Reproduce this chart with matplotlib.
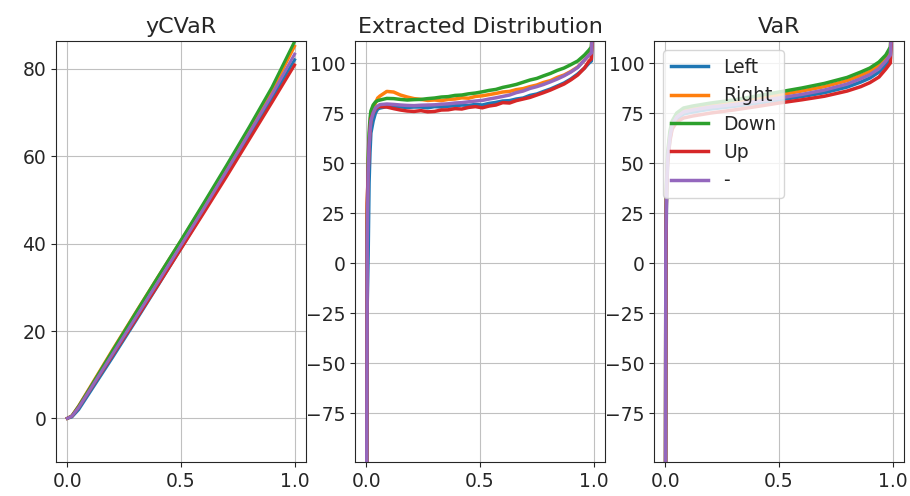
import matplotlib
matplotlib.use("Agg")
import matplotlib.pyplot as plt

labels = ["Left", "Right", "Down", "Up", "-"]
colors = ["#1f77b4", "#ff7f0e", "#2ca02c", "#d62728", "#9467bd"]

# ---- yCVaR panel ----
ycvar_alpha = [0.0, 0.02, 0.05, 0.1, 0.2, 0.3, 0.4, 0.5, 0.6, 0.7, 0.8, 0.9, 1.0]
ycvar_left = [0.0, 0.3, 2.0, 6.0, 14.0, 22.2, 30.5, 38.9, 47.3, 55.9, 64.6, 73.3, 82.1]
ycvar_right = [0.0, 0.6, 2.9, 7.2, 15.8, 24.2, 32.5, 40.7, 49.0, 57.4, 66.0, 75.0, 85.2]
ycvar_down = [0.0, 0.6, 2.8, 7.0, 15.6, 24.1, 32.5, 40.8, 49.3, 57.9, 66.7, 75.8, 86.3]
ycvar_up = [0.0, 0.5, 2.5, 6.5, 14.5, 22.5, 30.6, 38.8, 47.0, 55.3, 63.8, 72.3, 80.9]
ycvar_none = [0.0, 0.5, 2.5, 6.6, 14.8, 23.0, 31.3, 39.6, 48.0, 56.6, 65.3, 74.1, 83.4]

# ---- Extracted distribution panel ----
ext_alpha = [0.0, 0.004, 0.008, 0.012, 0.016, 0.02, 0.03, 0.04, 0.05,
             0.06, 0.09, 0.12, 0.15, 0.18, 0.21, 0.24, 0.27, 0.30, 0.33,
             0.36, 0.39, 0.42, 0.45, 0.48, 0.51, 0.54, 0.57, 0.60, 0.63,
             0.66, 0.69, 0.72, 0.75, 0.78, 0.81, 0.84, 0.87, 0.90, 0.93,
             0.96, 0.98, 0.99, 1.0]
ext_left = [-200, -20, 4, 40, 55, 65, 71, 75, 77,
            77.5, 78.2, 78.3, 78.0, 77.8, 78.0, 78.0, 77.6, 78.2, 78.0,
            78.4, 78.6, 79.0, 78.8, 79.3, 79.0, 79.8, 80.3, 81.0, 81.2,
            82.0, 82.5, 83.8, 84.5, 85.8, 87.0, 88.5, 90.0, 92.0, 94.5,
            97.5, 100, 101, 130]
ext_right = [-200, 25, 50, 62, 68, 72, 77, 80, 82.5,
             83.5, 85.8, 85.5, 84.0, 83.0, 82.2, 81.8, 81.3, 81.5, 81.2,
             81.8, 82.0, 82.6, 82.4, 83.3, 83.6, 84.2, 84.8, 85.5, 85.8,
             86.7, 87.2, 88.2, 89.0, 90.3, 91.2, 92.8, 94.0, 95.8, 98.0,
             101.5, 104, 106, 130]
ext_down = [-200, 20, 52, 65, 72, 76, 79, 80.5, 81.2,
            81.5, 82.3, 82.2, 81.8, 81.5, 81.7, 81.8, 82.2, 82.5, 83.0,
            83.2, 83.8, 84.0, 84.6, 85.0, 85.6, 86.3, 86.8, 87.8, 88.5,
            89.3, 90.4, 91.5, 92.3, 93.6, 94.8, 96.3, 97.5, 99.2, 101.0,
            104.0, 106.5, 108, 130]
ext_up = [-200, 30, 45, 58, 66, 72, 75, 77, 78,
          78.2, 78.0, 77.2, 76.5, 76.0, 75.8, 76.2, 75.6, 75.8, 76.5,
          76.6, 77.2, 77.0, 77.8, 78.2, 77.6, 78.5, 79.0, 80.2, 80.0,
          81.2, 82.0, 82.8, 84.0, 85.2, 86.5, 88.0, 89.5, 91.6, 94.0,
          97.5, 101, 102, 130]
ext_none = [-200, 10, 45, 58, 66, 71, 75, 77.5, 78.5,
            79.2, 79.5, 79.3, 79.0, 78.8, 78.7, 78.9, 79.0, 79.1, 79.4,
            79.6, 80.0, 80.2, 80.6, 81.0, 81.3, 82.0, 82.6, 83.3, 84.0,
            85.2, 86.0, 87.3, 88.2, 89.3, 90.6, 92.0, 93.6, 95.5, 97.8,
            101.5, 104, 105, 130]

# ---- VaR panel ----
var_alpha = [0.0, 0.002, 0.005, 0.01, 0.02, 0.03, 0.05, 0.08, 0.12, 0.2,
             0.3, 0.4, 0.5, 0.6, 0.7, 0.8, 0.86, 0.9, 0.94, 0.97, 0.99, 1.0]
var_left = [-200, -5, 30, 50, 62, 68, 72, 74.5, 75.5, 77, 78.3, 79.8, 81.5,
            83.2, 85.2, 88.0, 90.5, 92.5, 95.5, 99, 102, 130]
var_right = [-200, 10, 38, 53, 64, 70, 74, 76.5, 77.5, 79, 80.5, 82.2, 84,
             86, 88.2, 91.2, 93.8, 95.8, 98.8, 102.5, 106, 130]
var_down = [-200, 10, 40, 55, 66, 71, 75, 77.5, 78.5, 80, 81.5, 83.5, 85.5,
            87.5, 89.8, 92.8, 95.5, 97.5, 100.5, 104, 108, 130]
var_up = [-200, 5, 34, 50, 61, 67, 70.5, 72.5, 73.5, 75, 76.5, 78.2, 80,
          81.6, 83.4, 86, 88.2, 90.2, 93, 97, 100, 130]
var_none = [-200, 8, 36, 52, 63, 69, 73, 75.5, 76.5, 78, 79.2, 80.8, 82.5,
            84.3, 86.5, 89.5, 92.2, 94.2, 97.2, 101, 104, 130]

ycvar_series = [ycvar_left, ycvar_right, ycvar_down, ycvar_up, ycvar_none]
ext_series = [ext_left, ext_right, ext_down, ext_up, ext_none]
var_series = [var_left, var_right, var_down, var_up, var_none]

plt.rcParams['font.family'] = ['DejaVu Sans']
plt.rcParams['font.size'] = 13.5
plt.rcParams['text.color'] = '#262626'
plt.rcParams['xtick.color'] = '#262626'
plt.rcParams['ytick.color'] = '#262626'
plt.rcParams['axes.edgecolor'] = '#262626'
plt.rcParams['grid.color'] = '#c0c0c0'

fig, axes = plt.subplots(1, 3, figsize=(9.10, 4.96), dpi=100)
fig.subplots_adjust(left=0.0615, right=0.9934, bottom=0.0685, top=0.9173,
                    wspace=0.196)

ax1, ax2, ax3 = axes
for ys, lab, c in zip(ycvar_series, labels, colors):
    ax1.plot(ycvar_alpha, ys, color=c, lw=2.2, label=lab)
ax1.set_ylim(-10, 86.4)
ax1.set_title("yCVaR", fontsize=16)

for ys, lab, c in zip(ext_series, labels, colors):
    ax2.plot(ext_alpha, ys, color=c, lw=2.5, label=lab)
ax2.set_ylim(-99.5, 111)
ax2.set_title("Extracted Distribution", fontsize=16)

for ys, lab, c in zip(var_series, labels, colors):
    ax3.plot(var_alpha, ys, color=c, lw=2.5, label=lab)
ax3.set_ylim(-99.5, 111)
ax3.set_title("VaR", fontsize=16)
ax3.legend(loc='upper left', fontsize=13.5)

for ax in axes:
    ax.set_xlim(-0.05, 1.05)
    ax.set_xticks([0.0, 0.5, 1.0])
    ax.grid(True)
for ax in (ax2, ax3):
    ax.set_yticks([-75, -50, -25, 0, 25, 50, 75, 100])

fig.savefig("out.png", dpi=100)
